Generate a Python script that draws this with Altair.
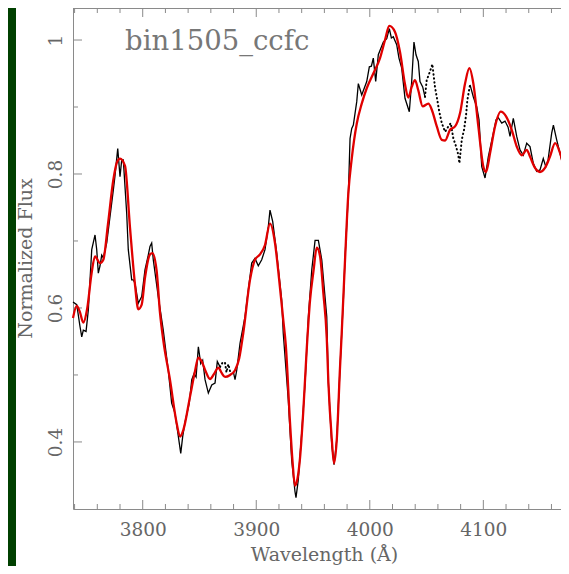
import altair as alt
import pandas as pd

# ---------------- data ----------------
red_wl = [3738.6, 3741.9, 3744.5, 3747.7, 3751.0, 3755.0, 3758.0, 3762.4, 3765.3, 3769.4,
          3774.1, 3777.4, 3780.0, 3784.4, 3788.8, 3793.2, 3796.1, 3799.1, 3802.0, 3806.4,
          3808.5, 3812.3, 3815.2, 3818.1, 3824.0, 3829.9, 3832.9, 3835.8, 3841.7, 3846.0,
          3849.0, 3852.0, 3855.5, 3859.3, 3863.0, 3866.6, 3869.5, 3872.5, 3877.0, 3881.3,
          3885.0, 3888.6, 3894.5, 3898.9, 3903.3, 3907.7, 3912.1, 3916.5, 3920.0, 3923.8,
          3926.0, 3929.7, 3932.0, 3934.1, 3936.3, 3938.5, 3941.5, 3944.4, 3947.4, 3950.4,
          3953.3, 3956.2, 3959.1, 3962.1, 3963.5, 3966.5, 3968.5, 3970.9, 3973.8, 3975.2,
          3978.2, 3981.1, 3984.1, 3988.5, 3992.9, 3997.3, 4003.1, 4009.0, 4013.4, 4017.2,
          4022.2, 4026.6, 4031.0, 4033.9, 4036.9, 4039.8, 4042.7, 4046.6, 4051.6, 4054.6,
          4059.0, 4063.4, 4066.3, 4070.7, 4075.1, 4079.5, 4083.9, 4087.7, 4091.2, 4095.6,
          4100.0, 4102.4, 4105.9, 4110.3, 4115.3, 4120.0, 4125.0, 4129.4, 4133.8, 4138.2,
          4141.1, 4145.5, 4149.9, 4154.3, 4158.7, 4163.2, 4167.6, 4172.0, 4175.5]
red_flux = [0.585, 0.603, 0.595, 0.578, 0.598, 0.652, 0.677, 0.667, 0.672, 0.725,
            0.791, 0.818, 0.823, 0.812, 0.720, 0.635, 0.598, 0.605, 0.645, 0.680,
            0.682, 0.655, 0.593, 0.552, 0.493, 0.428, 0.408, 0.418, 0.468, 0.505,
            0.526, 0.520, 0.505, 0.494, 0.502, 0.511, 0.503, 0.497, 0.500, 0.507,
            0.525, 0.563, 0.642, 0.672, 0.680, 0.694, 0.726, 0.697, 0.645, 0.582,
            0.545, 0.430, 0.370, 0.335, 0.345, 0.375, 0.448, 0.537, 0.612, 0.655,
            0.690, 0.677, 0.622, 0.555, 0.490, 0.405, 0.368, 0.403, 0.512, 0.560,
            0.672, 0.771, 0.823, 0.875, 0.905, 0.928, 0.950, 0.973, 1.000, 1.021,
            1.012, 0.982, 0.934, 0.914, 0.930, 0.940, 0.925, 0.901, 0.905, 0.896,
            0.871, 0.851, 0.850, 0.866, 0.871, 0.891, 0.935, 0.958, 0.935, 0.871,
            0.811, 0.803, 0.831, 0.871, 0.893, 0.886, 0.866, 0.841, 0.828, 0.836,
            0.826, 0.809, 0.803, 0.809, 0.826, 0.846, 0.831, 0.801, 0.771]

# observed spectrum, solid parts (segment id 1..3)
obs_wl = [3738.6, 3741.9, 3744.8, 3746.3, 3747.7, 3750.1, 3752.1, 3755.1, 3758.0, 3759.5,
          3760.9, 3762.4, 3763.9, 3765.3, 3768.3, 3774.1, 3775.5, 3778.0, 3780.0, 3781.5,
          3782.9, 3785.9, 3787.3, 3790.3, 3791.7, 3793.2, 3796.1, 3799.1, 3802.0, 3804.9,
          3806.4, 3807.9, 3809.3, 3813.7, 3818.1, 3822.5, 3825.5, 3828.4, 3831.4, 3833.5,
          3835.2, 3837.3, 3841.0, 3843.2, 3845.2, 3847.0, 3849.0, 3851.1, 3852.8, 3854.9,
          3857.8, 3860.8, 3863.7, 3865.7, 3868.1,
          3879.8, 3881.3, 3882.8, 3885.7, 3890.1, 3893.0, 3896.0, 3898.9, 3901.8, 3904.8,
          3907.7, 3910.6, 3912.1, 3914.5, 3918.0, 3922.4, 3923.8, 3928.2, 3931.2, 3934.1,
          3935.0, 3937.0, 3940.0, 3943.0, 3945.9, 3948.9, 3951.8, 3954.7, 3957.7, 3962.1,
          3963.5, 3966.5, 3968.5, 3970.9, 3973.8, 3976.7, 3978.2, 3981.1, 3982.6, 3984.1,
          3985.5, 3988.5, 3989.9, 3992.9, 3997.3, 3999.6, 4001.4, 4003.1, 4005.2, 4007.5,
          4011.9, 4014.9, 4017.2, 4019.0, 4020.7, 4023.7, 4025.7, 4028.1, 4031.0, 4034.8,
          4036.9, 4038.9, 4040.7, 4042.7, 4044.2, 4046.6, 4048.6,
          4088.3, 4091.2, 4094.2, 4096.2, 4098.6, 4101.5, 4104.4, 4108.8, 4111.2, 4113.2,
          4116.2, 4119.1, 4121.8, 4123.5, 4126.4, 4129.4, 4132.3, 4135.2, 4138.2, 4141.1,
          4144.0, 4147.0, 4149.9, 4152.8, 4155.0, 4157.0, 4160.2, 4161.7, 4164.6, 4169.0,
          4172.0, 4174.9]
obs_flux = [0.609, 0.605, 0.572, 0.557, 0.567, 0.565, 0.597, 0.687, 0.709, 0.687,
            0.652, 0.663, 0.679, 0.675, 0.697, 0.776, 0.796, 0.838, 0.796, 0.821,
            0.821, 0.741, 0.687, 0.642, 0.642, 0.637, 0.607, 0.617, 0.657, 0.679,
            0.692, 0.697, 0.672, 0.617, 0.567, 0.507, 0.458, 0.443, 0.408, 0.383,
            0.408, 0.430, 0.458, 0.493, 0.502, 0.497, 0.542, 0.517, 0.522, 0.493,
            0.473, 0.485, 0.488, 0.520, 0.512,
            0.505, 0.493, 0.507, 0.547, 0.587, 0.627, 0.667, 0.674, 0.663, 0.672,
            0.687, 0.721, 0.746, 0.729, 0.682, 0.612, 0.562, 0.463, 0.373, 0.326,
            0.317, 0.343, 0.413, 0.488, 0.587, 0.657, 0.701, 0.701, 0.672, 0.587,
            0.488, 0.396, 0.366, 0.403, 0.512, 0.612, 0.675, 0.769, 0.853, 0.868,
            0.873, 0.908, 0.935, 0.918, 0.938, 0.960, 0.961, 0.973, 0.938, 0.978,
            0.997, 1.002, 1.017, 1.003, 1.005, 0.993, 0.973, 0.958, 0.913, 0.893,
            0.938, 0.997, 0.978, 0.968, 0.938, 0.930, 0.915,
            0.933, 0.915, 0.900, 0.881, 0.811, 0.794, 0.826, 0.861, 0.881, 0.884,
            0.876, 0.879, 0.870, 0.856, 0.883, 0.856, 0.836, 0.828, 0.846, 0.841,
            0.816, 0.804, 0.806, 0.823, 0.811, 0.821, 0.861, 0.873, 0.851, 0.821,
            0.791, 0.766]
obs_seg = [1] * 55 + [2] * 67 + [3] * 32

# observed spectrum, masked (dotted) parts
mask_wl = [3868.1, 3870.5, 3872.5, 3873.8, 3875.4, 3876.9, 3879.8,
           4048.6, 4050.1, 4053.0, 4055.1, 4057.4, 4059.5, 4061.2, 4063.4, 4066.3, 4069.2,
           4071.3, 4073.6, 4076.0, 4078.0, 4078.9, 4081.0, 4083.0, 4084.8, 4085.9, 4087.7,
           4088.3]
mask_flux = [0.512, 0.519, 0.518, 0.504, 0.516, 0.506, 0.505,
             0.915, 0.940, 0.953, 0.964, 0.930, 0.910, 0.893, 0.876, 0.863, 0.871,
             0.876, 0.853, 0.841, 0.828, 0.816, 0.851, 0.866, 0.888, 0.910, 0.928,
             0.933]
mask_seg = [1] * 7 + [2] * 21

x_major = [3800, 3900, 4000, 4100]
x_minor = [3740, 3760, 3780, 3820, 3840, 3860, 3880, 3920, 3940, 3960, 3980,
           4020, 4040, 4060, 4080, 4120, 4140, 4160]
y_major = [0.4, 0.6, 0.8, 1.0]
y_minor = [0.5, 0.7, 0.9]

label_text = ["bin1505_ccfc"]
label_wl = [3784.5]
label_flux = [0.985]

x_domain = [3738.6, 4168.4]
y_domain = [0.2999, 1.0478]

# ---------------- chart ----------------
W, H = 488, 501
AX = "#8a8a8a"
TXT = "#666666"
FONT = "DejaVu Serif"

xs = alt.Scale(domain=x_domain, nice=False, zero=False)
ys = alt.Scale(domain=y_domain, nice=False, zero=False)

x_axis = alt.Axis(
    values=x_major, format="d", title="Wavelength (Å)", domain=True, domainColor=AX,
    ticks=False, grid=False, labelPadding=11, labelFont=FONT, labelFontSize=18.5,
    labelColor=TXT, labelFlush=False, titleFont=FONT, titleFontSize=19,
    titleFontWeight="normal", titleColor=TXT, titleX=251, titleY=51,
    titleAlign="center", titleBaseline="alphabetic")
y_axis = alt.Axis(
    values=y_major, format="~g", title="Normalized Flux", domain=True, domainColor=AX,
    ticks=False, grid=False, labelAngle=270, labelAlign="center",
    labelBaseline="alphabetic", labelPadding=12, labelFont=FONT, labelFontSize=18.5,
    labelColor=TXT, titleFont=FONT, titleFontSize=19, titleFontWeight="normal",
    titleColor=TXT, titleAngle=270, titleX=-41.5, titleY=250, titleAlign="center",
    titleBaseline="alphabetic")

def X(field):
    return alt.X(field, scale=xs, axis=x_axis)

def Y(field):
    return alt.Y(field, scale=ys, axis=y_axis)

df_red = pd.DataFrame({"wl": red_wl, "flux": red_flux})
df_obs = pd.DataFrame({"wl": obs_wl, "flux": obs_flux, "seg": obs_seg})
df_mask = pd.DataFrame({"wl": mask_wl, "flux": mask_flux, "seg": mask_seg})
df_lab = pd.DataFrame({"wl": label_wl, "flux": label_flux, "txt": label_text})

stripe = alt.Chart(pd.DataFrame({"a": [0]})).mark_rect(color="#004000").encode(
    x=alt.value(-65), x2=alt.value(-57), y=alt.value(-10), y2=alt.value(H + 80)
)
top_line = alt.Chart(pd.DataFrame({"a": [0]})).mark_rule(color=AX, strokeWidth=1).encode(
    x=alt.value(0), x2=alt.value(W), y=alt.value(0.5)
)

def xticks(vals, length):
    d = pd.DataFrame({"wl": vals})
    bottom = alt.Chart(d).mark_rule(color=AX, strokeWidth=1).encode(
        x=X("wl:Q"), y=alt.value(H), y2=alt.value(H - length))
    top = alt.Chart(d).mark_rule(color=AX, strokeWidth=1).encode(
        x=X("wl:Q"), y=alt.value(0), y2=alt.value(length))
    return [bottom, top]

def yticks(vals, length):
    d = pd.DataFrame({"flux": vals})
    left = alt.Chart(d).mark_rule(color=AX, strokeWidth=1).encode(
        y=Y("flux:Q"), x=alt.value(0), x2=alt.value(length))
    return [left]

obs = alt.Chart(df_obs).mark_line(color="black", strokeWidth=1.3).encode(
    x=X("wl:Q"), y=Y("flux:Q"), detail="seg:N",
)

masked = alt.Chart(df_mask).mark_line(
    color="black", strokeWidth=2, strokeDash=[0.5, 3.5], strokeCap="round"
).encode(x=X("wl:Q"), y=Y("flux:Q"), detail="seg:N")

model = alt.Chart(df_red).mark_line(
    color="#e00000", strokeWidth=2.3, interpolate="monotone"
).encode(x=X("wl:Q"), y=Y("flux:Q"))

label = alt.Chart(df_lab).mark_text(
    align="left", baseline="alphabetic", font=FONT, fontSize=27.5, color="#777777"
).encode(x=X("wl:Q"), y=Y("flux:Q"), text="txt:N")

layers = [stripe, top_line] + xticks(x_major, 9) + xticks(x_minor, 5) + \
    yticks(y_major, 9) + yticks(y_minor, 5) + [obs, masked, model, label]

chart = alt.layer(*layers).properties(
    width=W, height=H,
    autosize=alt.AutoSizeParams(type="none"),
    padding={"left": 65, "top": 0, "right": 0, "bottom": 57},
    background="white",
).configure_view(stroke=None)

chart.save("out.html", embed_options={"renderer": "svg", "actions": False})
